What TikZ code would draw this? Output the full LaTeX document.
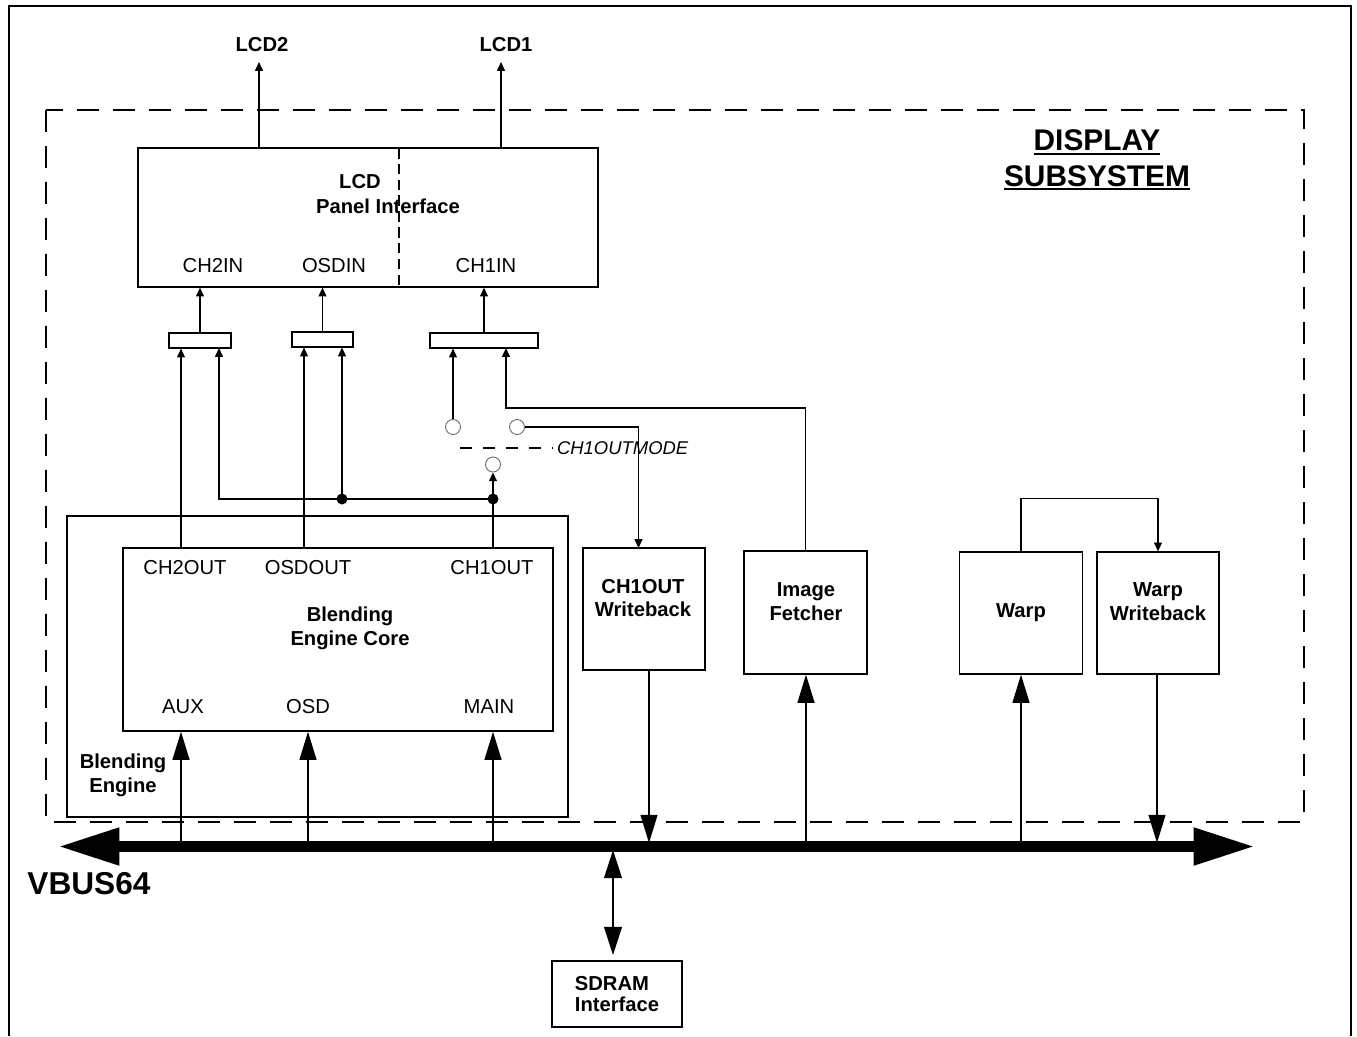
\documentclass[tikz,border=0pt]{standalone}
\usepackage{fontspec}
\setmainfont{Liberation Sans}
\usetikzlibrary{arrows.meta, positioning, calc}

\newcommand\ulbold[1]{\setbox0\hbox{#1}\rlap{\copy0}\rule[-2.2pt]{\wd0}{1.1pt}}

\tikzset{
  every node/.style={font=\fontsize{11.5}{13.6}\selectfont},
  blk/.style={draw, line width=0.75pt, inner sep=0pt},
  title/.style={font=\bfseries\fontsize{11.5}{13.6}\selectfont, align=center, inner sep=0pt},
  port/.style={inner sep=0pt},
  mux/.style={draw, line width=0.65pt, minimum height=0.3cm, inner sep=0pt},
  pin/.style={circle, draw=black!60, line width=0.5pt, minimum size=0.3cm, inner sep=0pt},
  joint/.style={circle, fill, minimum size=0.22cm, inner sep=0pt},
  wire/.style={line width=0.65pt},
  sig/.style={-{Triangle[length=5pt,width=4.5pt]}, line width=0.65pt},
  busline/.style={{Triangle[length=35pt,width=20pt]}-{Triangle[length=35pt,width=20pt]}, line width=6.2pt},
  busarrow/.style={-{Triangle[length=16pt,width=9.5pt]}, line width=1.2pt},
}

\begin{document}
\begin{tikzpicture}[x=0.02cm, y=-0.02cm]
\useasboundingbox (0,0) rectangle (1357,1036);

% frame and subsystem border
\draw[line width=0.75pt] (9,1036) |- (1351,6) -- (1351,1036);
\draw[line width=0.65pt, dash pattern=on 0.44cm off 0.28cm] (46,110) rectangle (1304,822);
\node[font=\bfseries\fontsize{17}{20}\selectfont, align=center, inner sep=0pt] (dss) at (1097,160)
  {\ulbold{DISPLAY}\\\ulbold{SUBSYSTEM}};

% LCD panel interface
\node[blk, minimum width=9.2cm, minimum height=2.78cm] (lcd) at (368,217.5) {};
\draw[line width=1pt, dash pattern=on 6pt off 3pt] (399,148) -- (399,287);
\node[title] (lcdname) at (360,182) {LCD};
\node[title] (lcdname2) at (388,206) {Panel Interface};
\node[port] (ch2in) at (213,266) {CH2IN};
\node[port] (osdin) at (334,266) {OSDIN};
\node[port] (ch1in) at (486,266) {CH1IN};

\coordinate (lcd2out) at (259,148);
\coordinate (lcd2end) at (259,62);
\coordinate (lcd1out) at (501,148);
\coordinate (lcd1end) at (501,62);
\draw[sig] (lcd2out) -- (lcd2end);
\draw[sig] (lcd1out) -- (lcd1end);
\node[title] (lcd2) at (262,45) {LCD2};
\node[title] (lcd1) at (506,45) {LCD1};

% muxes
\node[mux, minimum width=1.24cm] (mux2) at (200,340.5) {};
\node[mux, minimum width=1.22cm] (muxo) at (322.5,339.5) {};
\node[mux, minimum width=2.16cm] (mux1) at (484,340.5) {};
\draw[sig] (mux2.north) -- (mux2.north |- lcd.south);
\draw[sig] (muxo.north) -- (muxo.north |- lcd.south);
\draw[sig] (mux1.north) -- (mux1.north |- lcd.south);

% blending engine
\node[blk, minimum width=10.02cm, minimum height=6.02cm] (blend) at (317.5,666.5) {};
\node[blk, minimum width=8.6cm, minimum height=3.66cm] (core) at (338,639.5) {};
\node[title] (corename) at (350,628) {Blending\\Engine Core};
\node[title] (blendname) at (123,775) {Blending\\Engine};
\node[port] (ch2out) at (185,568) {CH2OUT};
\node[port] (osdout) at (308,568) {OSDOUT};
\node[port] (ch1out) at (492,568) {CH1OUT};
\node[port] (aux) at (183,707) {AUX};
\node[port] (osd) at (308,707) {OSD};
\node[port] (main) at (489,707) {MAIN};

% channel routing
\coordinate (c2out) at (181,548);
\coordinate (oout) at (304,548);
\coordinate (c1out) at (493,548);
\coordinate (m2in) at (219,348);
\coordinate (j1) at (493,499);
\coordinate (j2) at (342,499);
\node[pin] (pina) at (453,427) {};
\node[pin] (pinb) at (517,427) {};
\node[pin] (pinc) at (493,464.5) {};

\draw[sig] (c2out) -- (c2out |- mux2.south);
\draw[sig] (oout) -- (oout |- muxo.south);
\draw[wire] (c1out) -- (j1);
\draw[sig] (j1) -- (pinc.south);
\draw[sig] (j1) -| (m2in);
\draw[sig] (j2) -- (j2 |- muxo.south);
\node[joint] (dot1) at (j1) {};
\node[joint] (dot2) at (j2) {};
\draw[sig] (pina) -- (pina |- mux1.south);

\coordinate (mode) at (460,448);
\draw[wire, dash pattern=on 0.24cm off 0.22cm] (mode) -- ++(93,0)
  node[right, inner sep=2pt, font=\itshape\fontsize{10.5}{12}\selectfont] (modename) {CH1OUTMODE};

% side blocks
\node[blk, minimum width=2.44cm, minimum height=2.44cm] (wb1) at (644,609) {};
\node[title] (wb1txt) at (643,598) {CH1OUT\\Writeback};
\node[blk, minimum width=2.46cm, minimum height=2.46cm] (fetch) at (805.5,612.5) {};
\node[title] (fetchtxt) at (806,602) {Image\\Fetcher};
\node[blk, title, minimum width=2.46cm, minimum height=2.44cm] (warp) at (1021,613) {Warp};
\node[blk, minimum width=2.44cm, minimum height=2.44cm] (warpwb) at (1158,613) {};
\node[title] (warpwbtxt) at (1158,602) {Warp\\Writeback};

\coordinate (wb1in) at (638.5,548);
\coordinate (fturn) at (506,408);
\coordinate (m1in) at (506,348);
\draw[sig] (pinb) -| (wb1in);
\draw[sig] (fetch.north) |- (fturn) -- (m1in);
\draw[sig] (warp.north) -- ++(0,-53) -| (warpwb.north);

% bus
\coordinate (busl) at (58,846.5);
\coordinate (busr) at (1255,846.5);
\draw[busline] (busl) -- (busr);
\node[font=\bfseries\fontsize{18}{20}\selectfont, inner sep=0pt] (vbus) at (89,884) {VBUS64};

\coordinate (auxbus) at (181,843);
\coordinate (osdbus) at (308,843);
\coordinate (mainbus) at (493,843);
\coordinate (wb1bus) at (649,843);
\coordinate (fetchbus) at (806,843);
\coordinate (warpbus) at (1021,843);
\coordinate (warpwbbus) at (1157,843);
\coordinate (sdbus) at (613,850);
\draw[busarrow] (auxbus) -- (auxbus |- core.south);
\draw[busarrow] (osdbus) -- (osdbus |- core.south);
\draw[busarrow] (mainbus) -- (mainbus |- core.south);
\draw[busarrow] (wb1.south -| wb1bus) -- (wb1bus);
\draw[busarrow] (fetchbus) -- (fetchbus |- fetch.south);
\draw[busarrow] (warpbus) -- (warpbus |- warp.south);
\draw[busarrow] (warpwb.south -| warpwbbus) -- (warpwbbus);

% sdram
\node[blk, title, align=left, font=\bfseries\fontsize{11.5}{12.2}\selectfont,
  minimum width=2.6cm, minimum height=1.32cm] (sdram) at (617,994) {SDRAM\\Interface};
\draw[{Triangle[length=16pt,width=10pt]}-{Triangle[length=16pt,width=10pt]}, line width=1.2pt,
  shorten >=3pt] (sdbus) -- (sdram.north -| sdbus);

\end{tikzpicture}
\end{document}
